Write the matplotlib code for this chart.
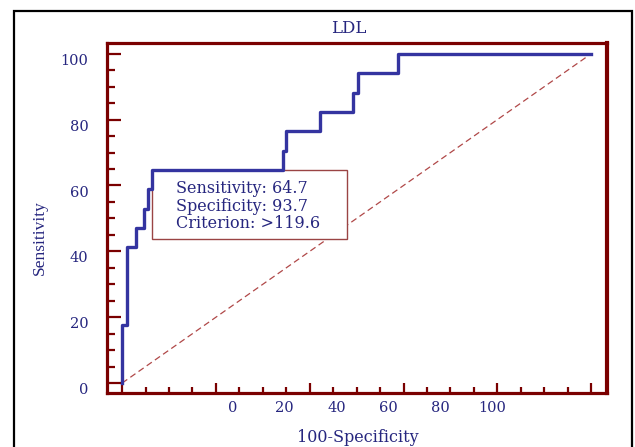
import matplotlib
matplotlib.use('Agg')
import matplotlib.pyplot as plt
import matplotlib.patches as mpatches
import matplotlib.transforms as mtransforms
from matplotlib.ticker import MultipleLocator

# ROC curve corners (100-specificity, sensitivity)
fpr = [0, 0, 1.0, 2.9, 4.7, 5.5, 6.3, 34.2, 35.0, 42.1, 49.2, 50.2, 58.9, 100]
sens = [0, 17.6, 41.2, 47.1, 52.9, 58.8, 64.7, 70.6, 76.5, 82.4, 88.2, 94.1, 100, 100]
diag = [0, 100]

y_ticks = [0, 20, 40, 60, 80, 100]
x_tick_labels = [0, 20, 40, 60, 80, 100]

cut_sens = 64.7
cut_spec = 93.7
criterion = '>119.6'
title = 'LDL'

red = '#7a0000'
navy = '#26267f'
blue = '#3434a0'
serif = ['DejaVu Serif']

fig = plt.figure(figsize=(6.35, 4.47), dpi=100)
ax = fig.add_axes([0.168, 0.121, 0.788, 0.783])

ax.plot(fpr, sens, drawstyle='steps-post', color=blue, lw=2.4, zorder=4)
ax.plot(diag, diag, color='#b04848', lw=0.9, ls=(0, (5, 3)), zorder=2)

ax.set_xlim(-3.3, 103.4)
ax.set_ylim(-3.0, 103.3)

for s in ax.spines.values():
    s.set_color(red)
    s.set_linewidth(2.3)
ax.spines['right'].set_linewidth(3)

# y axis
ax.set_yticks(y_ticks)
ax.yaxis.set_minor_locator(MultipleLocator(5))
ax.tick_params(axis='y', which='major', direction='in', length=10, width=1.6,
               color=red, pad=13, labelcolor=navy, labelsize=10.5)
ax.tick_params(axis='y', which='minor', direction='in', length=6, width=1.6, color=red)
for lab in ax.get_yticklabels():
    lab.set_fontfamily(serif)
    lab.set_transform(lab.get_transform() +
                      mtransforms.ScaledTranslation(0, -4 / 72, fig.dpi_scale_trans))

# x axis: ticks every 20 (minor 5), labels drawn on a shifted secondary axis
ax.set_xticks([0, 20, 40, 60, 80, 100])
ax.xaxis.set_minor_locator(MultipleLocator(5))
ax.tick_params(axis='x', which='major', direction='in', length=7.5, width=1.6,
               color=red, labelbottom=False)
ax.tick_params(axis='x', which='minor', direction='in', length=4, width=1.6, color=red)

sec = ax.secondary_xaxis('bottom', functions=(lambda x: (x - 23.6) / 0.5525,
                                              lambda v: v * 0.5525 + 23.6))
sec.set_xticks(x_tick_labels)
sec.tick_params(length=0, pad=6, labelcolor=navy, labelsize=10.5)
sec.spines['bottom'].set_visible(False)
for lab in sec.get_xticklabels():
    lab.set_fontfamily(serif)

ax.set_xlabel('100-Specificity', color=navy, fontsize=11.5, family=serif)
ax.xaxis.set_label_coords(0.502, -0.126)
ax.xaxis.label.set_va('center')
ax.set_ylabel('Sensitivity', color=navy, fontsize=12.5, family=['Liberation Serif'])
ax.yaxis.set_label_coords(-0.133, 0.443)
ax.yaxis.label.set_va('center')

ax.set_title(title, color=navy, fontsize=12, family=serif, x=0.484, pad=7)

# criterion box hanging from the cut-off point
box_w, box_h = 41.7, 21.0
ax.add_patch(mpatches.Rectangle((100 - cut_spec, cut_sens - box_h), box_w, box_h,
                                facecolor='white', edgecolor='#9a4444', lw=1.0, zorder=3))
ax.text(100 - cut_spec + 5.2, cut_sens - box_h / 2 - 0.5,
        f'Sensitivity: {cut_sens}\nSpecificity: {cut_spec}\nCriterion: {criterion}',
        color=navy, fontsize=11.5, family=serif, ha='left', va='center',
        linespacing=1.05, zorder=5)

# outer black frame
fig.patches.append(mpatches.Rectangle((14 / 635, -0.1), 618 / 635, 436 / 447 + 0.1,
                                      transform=fig.transFigure, fill=False,
                                      edgecolor='black', lw=1.6))

fig.savefig('out.png', dpi=100)
plt.close(fig)
